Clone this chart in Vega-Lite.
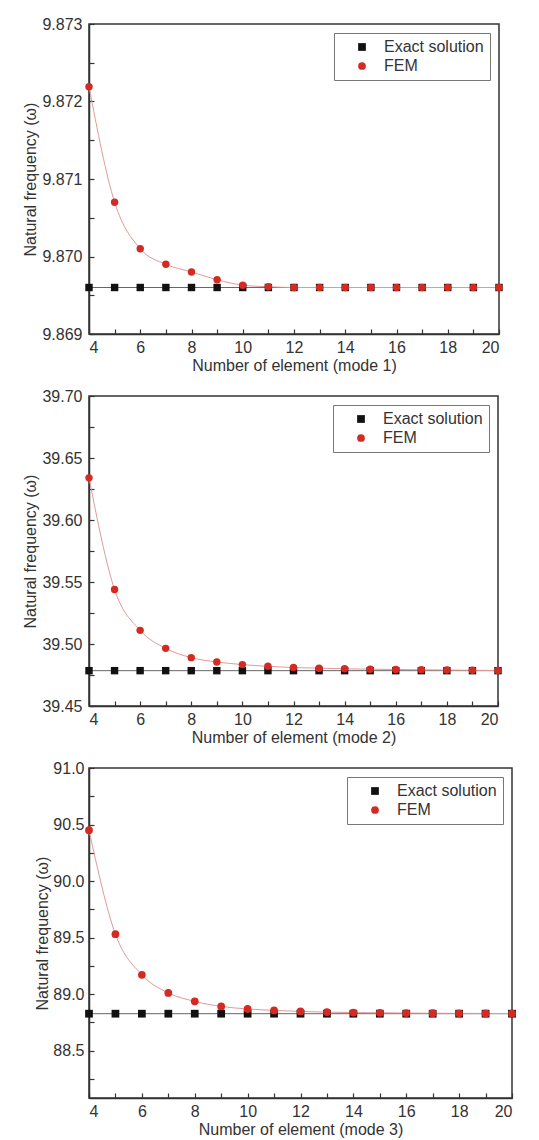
{
  "$schema": "https://vega.github.io/schema/vega-lite/v6.json",
  "background": "white",
  "padding": {"left": 22, "top": 15, "right": 5, "bottom": 5},
  "spacing": 13,
  "config": {
    "font": "Liberation Sans",
    "view": {"stroke": "#333", "strokeWidth": 1.5},
    "axis": {
      "labelFont": "Liberation Sans",
      "titleFont": "Liberation Sans",
      "labelFontSize": 16,
      "titleFontSize": 16,
      "titleFontWeight": "normal",
      "labelColor": "#333",
      "titleColor": "#333",
      "domainColor": "#333",
      "domainWidth": 1.5,
      "tickColor": "#333",
      "tickWidth": 1.2,
      "tickSize": -5,
      "labelPadding": 12,
      "titlePadding": 3,
      "grid": false
    },
    "axisX": {"labelPadding": 10, "titlePadding": 2},
    "legend": {
      "labelFont": "Liberation Sans",
      "labelFontSize": 16,
      "labelColor": "#333",
      "strokeColor": "#777",
      "fillColor": "white",
      "padding": 6,
      "rowPadding": 3,
      "symbolSize": 60,
      "symbolOffset": 14,
      "labelOffset": 14
    }
  },
  "datasets": {
    "mode1": [
      {"n": 4, "freq": 9.8696, "series": "Exact solution"},
      {"n": 5, "freq": 9.8696, "series": "Exact solution"},
      {"n": 6, "freq": 9.8696, "series": "Exact solution"},
      {"n": 7, "freq": 9.8696, "series": "Exact solution"},
      {"n": 8, "freq": 9.8696, "series": "Exact solution"},
      {"n": 9, "freq": 9.8696, "series": "Exact solution"},
      {"n": 10, "freq": 9.8696, "series": "Exact solution"},
      {"n": 11, "freq": 9.8696, "series": "Exact solution"},
      {"n": 12, "freq": 9.8696, "series": "Exact solution"},
      {"n": 13, "freq": 9.8696, "series": "Exact solution"},
      {"n": 14, "freq": 9.8696, "series": "Exact solution"},
      {"n": 15, "freq": 9.8696, "series": "Exact solution"},
      {"n": 16, "freq": 9.8696, "series": "Exact solution"},
      {"n": 17, "freq": 9.8696, "series": "Exact solution"},
      {"n": 18, "freq": 9.8696, "series": "Exact solution"},
      {"n": 19, "freq": 9.8696, "series": "Exact solution"},
      {"n": 20, "freq": 9.8696, "series": "Exact solution"},
      {"n": 4, "freq": 9.87219, "series": "FEM"},
      {"n": 5, "freq": 9.8707, "series": "FEM"},
      {"n": 6, "freq": 9.8701, "series": "FEM"},
      {"n": 7, "freq": 9.8699, "series": "FEM"},
      {"n": 8, "freq": 9.8698, "series": "FEM"},
      {"n": 9, "freq": 9.8697, "series": "FEM"},
      {"n": 10, "freq": 9.86963, "series": "FEM"},
      {"n": 11, "freq": 9.86961, "series": "FEM"},
      {"n": 12, "freq": 9.8696, "series": "FEM"},
      {"n": 13, "freq": 9.8696, "series": "FEM"},
      {"n": 14, "freq": 9.8696, "series": "FEM"},
      {"n": 15, "freq": 9.8696, "series": "FEM"},
      {"n": 16, "freq": 9.8696, "series": "FEM"},
      {"n": 17, "freq": 9.8696, "series": "FEM"},
      {"n": 18, "freq": 9.8696, "series": "FEM"},
      {"n": 19, "freq": 9.8696, "series": "FEM"},
      {"n": 20, "freq": 9.8696, "series": "FEM"}
    ],
    "mode2": [
      {"n": 4, "freq": 39.4785, "series": "Exact solution"},
      {"n": 5, "freq": 39.4785, "series": "Exact solution"},
      {"n": 6, "freq": 39.4785, "series": "Exact solution"},
      {"n": 7, "freq": 39.4785, "series": "Exact solution"},
      {"n": 8, "freq": 39.4785, "series": "Exact solution"},
      {"n": 9, "freq": 39.4785, "series": "Exact solution"},
      {"n": 10, "freq": 39.4785, "series": "Exact solution"},
      {"n": 11, "freq": 39.4785, "series": "Exact solution"},
      {"n": 12, "freq": 39.4785, "series": "Exact solution"},
      {"n": 13, "freq": 39.4785, "series": "Exact solution"},
      {"n": 14, "freq": 39.4785, "series": "Exact solution"},
      {"n": 15, "freq": 39.4785, "series": "Exact solution"},
      {"n": 16, "freq": 39.4785, "series": "Exact solution"},
      {"n": 17, "freq": 39.4785, "series": "Exact solution"},
      {"n": 18, "freq": 39.4785, "series": "Exact solution"},
      {"n": 19, "freq": 39.4785, "series": "Exact solution"},
      {"n": 20, "freq": 39.4785, "series": "Exact solution"},
      {"n": 4, "freq": 39.634, "series": "FEM"},
      {"n": 5, "freq": 39.544, "series": "FEM"},
      {"n": 6, "freq": 39.511, "series": "FEM"},
      {"n": 7, "freq": 39.4965, "series": "FEM"},
      {"n": 8, "freq": 39.489, "series": "FEM"},
      {"n": 9, "freq": 39.4855, "series": "FEM"},
      {"n": 10, "freq": 39.4834, "series": "FEM"},
      {"n": 11, "freq": 39.482, "series": "FEM"},
      {"n": 12, "freq": 39.481, "series": "FEM"},
      {"n": 13, "freq": 39.4805, "series": "FEM"},
      {"n": 14, "freq": 39.480, "series": "FEM"},
      {"n": 15, "freq": 39.4797, "series": "FEM"},
      {"n": 16, "freq": 39.4794, "series": "FEM"},
      {"n": 17, "freq": 39.4792, "series": "FEM"},
      {"n": 18, "freq": 39.479, "series": "FEM"},
      {"n": 19, "freq": 39.4788, "series": "FEM"},
      {"n": 20, "freq": 39.4786, "series": "FEM"}
    ],
    "mode3": [
      {"n": 4, "freq": 88.826, "series": "Exact solution"},
      {"n": 5, "freq": 88.826, "series": "Exact solution"},
      {"n": 6, "freq": 88.826, "series": "Exact solution"},
      {"n": 7, "freq": 88.826, "series": "Exact solution"},
      {"n": 8, "freq": 88.826, "series": "Exact solution"},
      {"n": 9, "freq": 88.826, "series": "Exact solution"},
      {"n": 10, "freq": 88.826, "series": "Exact solution"},
      {"n": 11, "freq": 88.826, "series": "Exact solution"},
      {"n": 12, "freq": 88.826, "series": "Exact solution"},
      {"n": 13, "freq": 88.826, "series": "Exact solution"},
      {"n": 14, "freq": 88.826, "series": "Exact solution"},
      {"n": 15, "freq": 88.826, "series": "Exact solution"},
      {"n": 16, "freq": 88.826, "series": "Exact solution"},
      {"n": 17, "freq": 88.826, "series": "Exact solution"},
      {"n": 18, "freq": 88.826, "series": "Exact solution"},
      {"n": 19, "freq": 88.826, "series": "Exact solution"},
      {"n": 20, "freq": 88.826, "series": "Exact solution"},
      {"n": 4, "freq": 90.45, "series": "FEM"},
      {"n": 5, "freq": 89.53, "series": "FEM"},
      {"n": 6, "freq": 89.17, "series": "FEM"},
      {"n": 7, "freq": 89.01, "series": "FEM"},
      {"n": 8, "freq": 88.935, "series": "FEM"},
      {"n": 9, "freq": 88.89, "series": "FEM"},
      {"n": 10, "freq": 88.868, "series": "FEM"},
      {"n": 11, "freq": 88.855, "series": "FEM"},
      {"n": 12, "freq": 88.846, "series": "FEM"},
      {"n": 13, "freq": 88.84, "series": "FEM"},
      {"n": 14, "freq": 88.836, "series": "FEM"},
      {"n": 15, "freq": 88.834, "series": "FEM"},
      {"n": 16, "freq": 88.832, "series": "FEM"},
      {"n": 17, "freq": 88.83, "series": "FEM"},
      {"n": 18, "freq": 88.829, "series": "FEM"},
      {"n": 19, "freq": 88.828, "series": "FEM"},
      {"n": 20, "freq": 88.827, "series": "FEM"}
    ]
  },
  "resolve": {
    "scale": {"x": "independent", "y": "independent", "color": "independent", "shape": "independent"},
    "legend": {"color": "independent", "shape": "independent"}
  },
  "vconcat": [
    {
      "width": 410,
      "height": 310,
      "data": {"name": "mode1"},
      "encoding": {
        "x": {"field": "n", "type": "quantitative", "scale": {"domain": [4, 20], "nice": false},
              "axis": {"title": "Number of element (mode 1)", "values": [4,5,6,7,8,9,10,11,12,13,14,15,16,17,18,19,20], "labelExpr": "datum.value % 2 == 0 ? datum.label : ''"}},
        "y": {"field": "freq", "type": "quantitative", "scale": {"domain": [9.869, 9.873], "nice": false, "zero": false},
              "axis": {"title": "Natural frequency (ω)", "values": [9.869, 9.8695, 9.87, 9.8705, 9.871, 9.8715, 9.872, 9.8725, 9.873],
                       "labelExpr": "abs(datum.value*1000 - round(datum.value*1000)) < 0.01 ? format(datum.value, '.3f') : ''"}}
      },
      "layer": [
        {"transform": [{"filter": "datum.series == 'Exact solution'"}],
         "mark": {"type": "line", "interpolate": "monotone", "strokeWidth": 1, "color": "#666"}},
        {"transform": [{"filter": "datum.series == 'FEM'"}],
         "mark": {"type": "line", "interpolate": "monotone", "strokeWidth": 1, "color": "#e09a9a"}},
        {"mark": {"type": "point", "filled": true, "opacity": 1, "size": 55},
         "encoding": {
           "color": {"field": "series", "type": "nominal", "scale": {"domain": ["Exact solution", "FEM"], "range": ["#111", "#d42a22"]},
                     "legend": {"orient": "top-right", "offset": 9, "title": ""}},
           "shape": {"field": "series", "type": "nominal", "scale": {"domain": ["Exact solution", "FEM"], "range": ["square", "circle"]},
                     "legend": {"orient": "top-right", "offset": 9, "title": ""}}
         }}
      ]
    },
    {
      "width": 409,
      "height": 310,
      "data": {"name": "mode2"},
      "encoding": {
        "x": {"field": "n", "type": "quantitative", "scale": {"domain": [4, 20], "nice": false},
              "axis": {"title": "Number of element (mode 2)", "values": [4,5,6,7,8,9,10,11,12,13,14,15,16,17,18,19,20], "labelExpr": "datum.value % 2 == 0 ? datum.label : ''"}},
        "y": {"field": "freq", "type": "quantitative", "scale": {"domain": [39.45, 39.70], "nice": false, "zero": false},
              "axis": {"title": "Natural frequency (ω)", "values": [39.45, 39.475, 39.5, 39.525, 39.55, 39.575, 39.6, 39.625, 39.65, 39.675, 39.7],
                       "labelExpr": "abs(datum.value*20 - round(datum.value*20)) < 0.01 ? format(datum.value, '.2f') : ''"}}
      },
      "layer": [
        {"transform": [{"filter": "datum.series == 'Exact solution'"}],
         "mark": {"type": "line", "interpolate": "monotone", "strokeWidth": 1, "color": "#666"}},
        {"transform": [{"filter": "datum.series == 'FEM'"}],
         "mark": {"type": "line", "interpolate": "monotone", "strokeWidth": 1, "color": "#e09a9a"}},
        {"mark": {"type": "point", "filled": true, "opacity": 1, "size": 55},
         "encoding": {
           "color": {"field": "series", "type": "nominal", "scale": {"domain": ["Exact solution", "FEM"], "range": ["#111", "#d42a22"]},
                     "legend": {"orient": "top-right", "offset": 9, "title": ""}},
           "shape": {"field": "series", "type": "nominal", "scale": {"domain": ["Exact solution", "FEM"], "range": ["square", "circle"]},
                     "legend": {"orient": "top-right", "offset": 9, "title": ""}}
         }}
      ]
    },
    {
      "width": 423,
      "height": 330,
      "data": {"name": "mode3"},
      "encoding": {
        "x": {"field": "n", "type": "quantitative", "scale": {"domain": [4, 20], "nice": false},
              "axis": {"title": "Number of element (mode 3)", "values": [4,5,6,7,8,9,10,11,12,13,14,15,16,17,18,19,20], "labelExpr": "datum.value % 2 == 0 ? datum.label : ''"}},
        "y": {"field": "freq", "type": "quantitative", "scale": {"domain": [88.08, 91.0], "nice": false, "zero": false},
              "axis": {"title": "Natural frequency (ω)", "labelPadding": 10, "titlePadding": 2,
                       "values": [88.25, 88.5, 88.75, 89.0, 89.25, 89.5, 89.75, 90.0, 90.25, 90.5, 90.75, 91.0],
                       "labelExpr": "abs(datum.value*2 - round(datum.value*2)) < 0.01 ? format(datum.value, '.1f') : ''"}}
      },
      "layer": [
        {"transform": [{"filter": "datum.series == 'Exact solution'"}],
         "mark": {"type": "line", "interpolate": "monotone", "strokeWidth": 1, "color": "#666"}},
        {"transform": [{"filter": "datum.series == 'FEM'"}],
         "mark": {"type": "line", "interpolate": "monotone", "strokeWidth": 1, "color": "#e09a9a"}},
        {"mark": {"type": "point", "filled": true, "opacity": 1, "size": 60},
         "encoding": {
           "color": {"field": "series", "type": "nominal", "scale": {"domain": ["Exact solution", "FEM"], "range": ["#111", "#d42a22"]},
                     "legend": {"orient": "top-right", "offset": 9, "title": ""}},
           "shape": {"field": "series", "type": "nominal", "scale": {"domain": ["Exact solution", "FEM"], "range": ["square", "circle"]},
                     "legend": {"orient": "top-right", "offset": 9, "title": ""}}
         }}
      ]
    }
  ]
}
